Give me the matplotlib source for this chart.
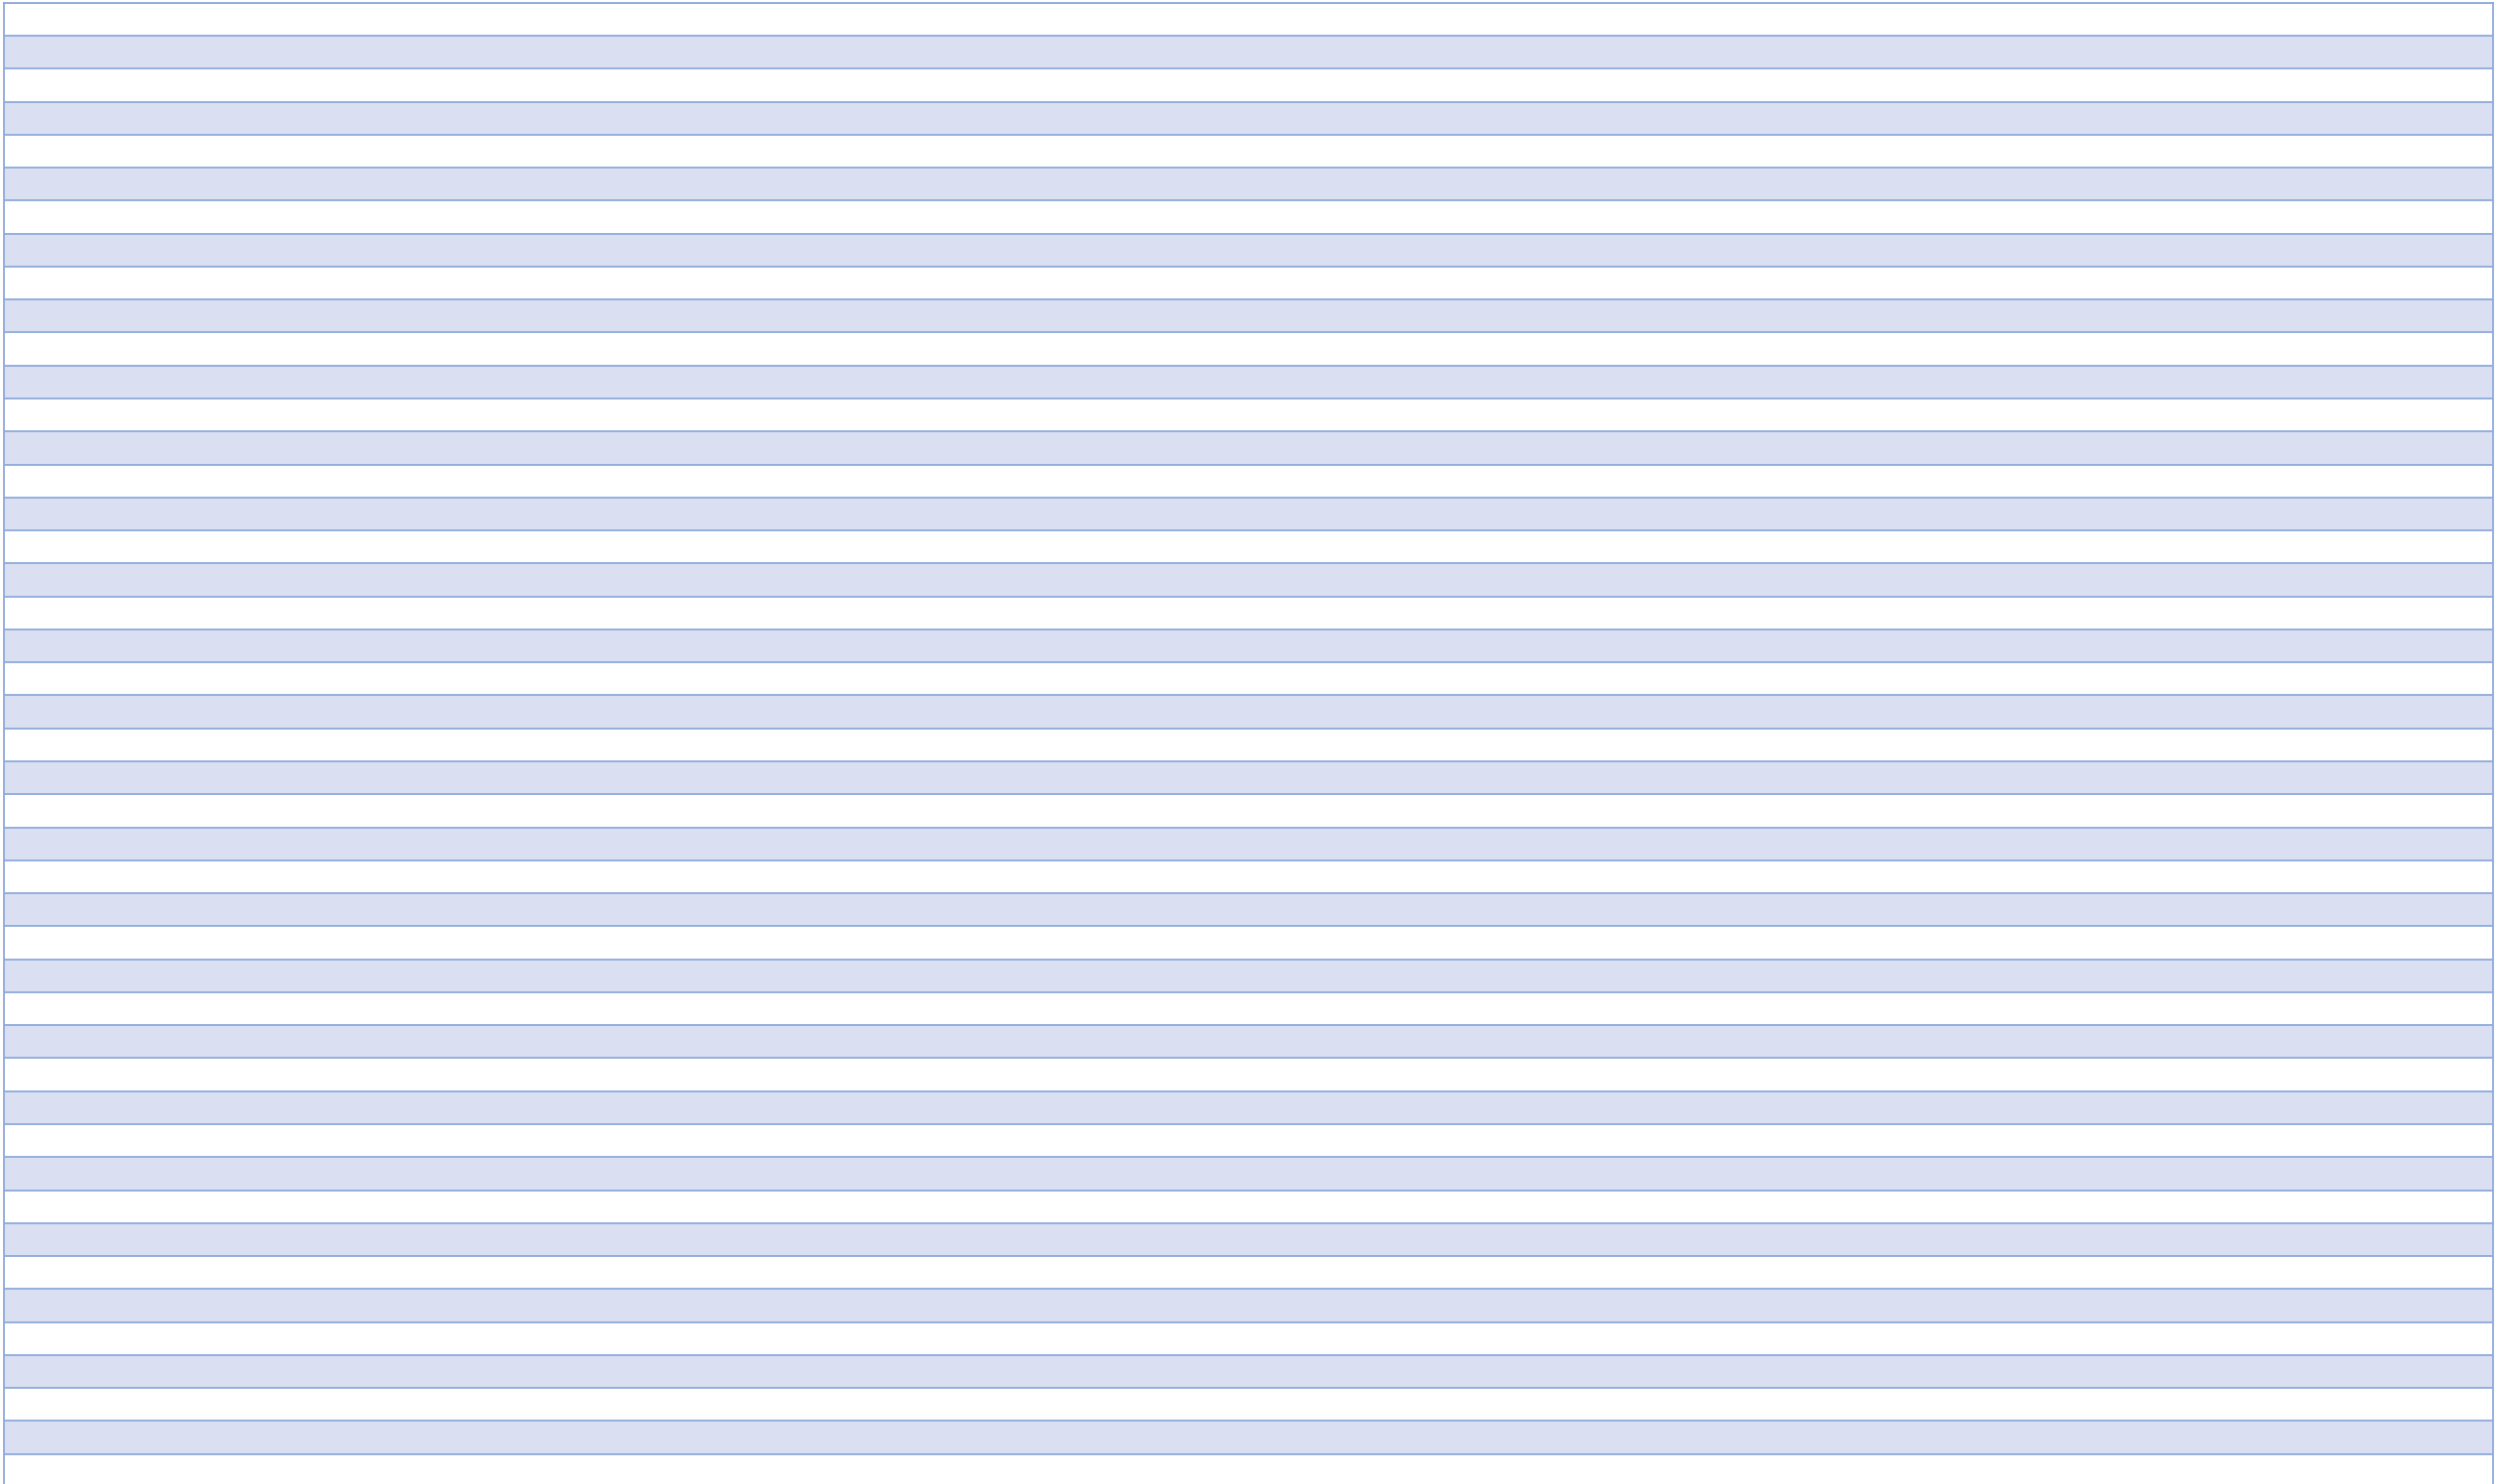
import matplotlib
matplotlib.use("Agg")
import matplotlib.pyplot as plt
import numpy as np

# Table-like striped rows (no text content visible)
n_rows = 45
rows = list(range(n_rows))
row_shading = ["white" if i % 2 == 0 else "band" for i in rows]
band_colors = {"white": "#ffffff", "band": "#dae0f2"}
line_color = "#8eaadb"

W, H, DPI = 2521, 1497, 100
fig = plt.figure(figsize=(W / DPI, H / DPI), dpi=DPI)
left_px, right_px, top_px = 4.0, 2514.5, 2.7
row_px = (1466.7 - 2.7) / 44
ax = fig.add_axes([left_px / W, 0, (right_px - left_px) / W, (H - top_px) / H])

heights = [1] * n_rows
colors = [band_colors[s] for s in row_shading]
ax.barh([r + 0.5 for r in rows], [1] * n_rows, height=heights, left=0,
        color=colors, edgecolor="none")
ax.hlines(rows, 0, 1, color=line_color, linewidth=1.3)

ax.set_xlim(0, 1)
ax.set_ylim((H - top_px) / row_px, 0)
ax.set_xticks([])
ax.set_yticks([])
for s in ["left", "right", "top"]:
    ax.spines[s].set_color(line_color)
    ax.spines[s].set_linewidth(1.3)
ax.spines["bottom"].set_visible(False)

fig.savefig("out.png", dpi=DPI)
